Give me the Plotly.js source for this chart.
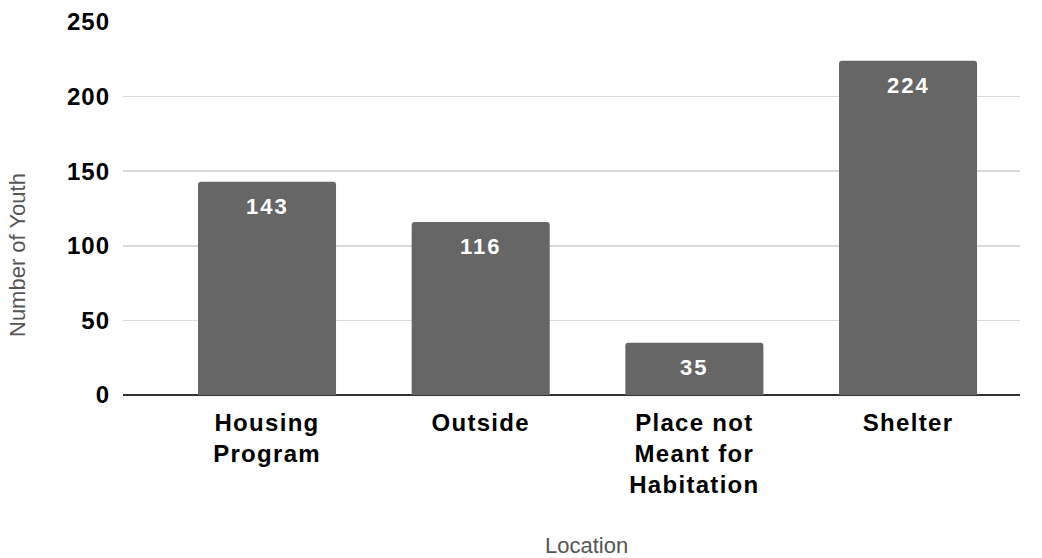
<!DOCTYPE html>
<html>
<head>
<meta charset="utf-8">
<script src="https://cdn.plot.ly/plotly-3.0.1.min.js"></script>
<style>
html,body{margin:0;padding:0;background:#fff;}
#chart{width:1042px;height:558px;}
.xtick text{letter-spacing:1.3px;}
.ytick text{letter-spacing:1px;}
g.annotation[data-index="0"] text,
g.annotation[data-index="1"] text,
g.annotation[data-index="2"] text,
g.annotation[data-index="3"] text{letter-spacing:2px;}
</style>
</head>
<body>
<div id="chart"></div>
<script>
const categories = ["Housing<br>Program", "Outside", "Place not<br>Meant for<br>Habitation", "Shelter"];
const youthCounts = [143, 116, 35, 224];
const yTickValues = [0, 50, 100, 150, 200, 250];

const FONT = "'Liberation Sans', Arial, sans-serif";

const trace = {
  type: "bar",
  x: categories,
  y: youthCounts,
  width: 0.646,
  marker: { color: "#666666", cornerradius: 3 },
  hoverinfo: "none"
};

const labelAnnotations = categories.map((c, i) => ({
  x: c, y: youthCounts[i], xref: "x", yref: "y",
  text: "<b>" + youthCounts[i] + "</b>",
  showarrow: false, yanchor: "top", yshift: -10,
  font: { family: FONT, size: 22, color: "#ffffff" }
}));

const layout = {
  width: 1042, height: 558,
  margin: { l: 123, r: 22, t: 22, b: 163 },
  paper_bgcolor: "#ffffff", plot_bgcolor: "#ffffff",
  showlegend: false,
  font: { family: FONT },
  xaxis: {
    type: "category",
    range: [-0.674, 3.524],
    showgrid: false,
    showline: false,
    ticks: "",
    ticklabelstandoff: 11,
    tickfont: { family: FONT, size: 24, color: "#000000", weight: "bold" }
  },
  yaxis: {
    range: [0, 250],
    tickvals: yTickValues,
    showgrid: true, gridcolor: "#d9d9d9", gridwidth: 1.5,
    zeroline: true, zerolinecolor: "#333333", zerolinewidth: 1.5,
    ticks: "",
    ticklabelstandoff: 12,
    tickfont: { family: FONT, size: 24, color: "#000000", weight: "bold" }
  },
  annotations: labelAnnotations.concat([
    { xref: "paper", yref: "paper", x: (586 - 123) / 897, y: (558 - 163 - 545) / 373,
      text: "Location", showarrow: false, xanchor: "center", yanchor: "middle",
      font: { family: FONT, size: 22, color: "#555555" } },
    { xref: "paper", yref: "paper", x: (17 - 123) / 897, y: (395 - 255) / 373,
      text: "Number of Youth", textangle: -90, showarrow: false, xanchor: "center", yanchor: "middle",
      font: { family: FONT, size: 22, color: "#555555" } }
  ])
};

Plotly.newPlot("chart", [trace], layout, { displayModeBar: false, staticPlot: true });
</script>
</body>
</html>
